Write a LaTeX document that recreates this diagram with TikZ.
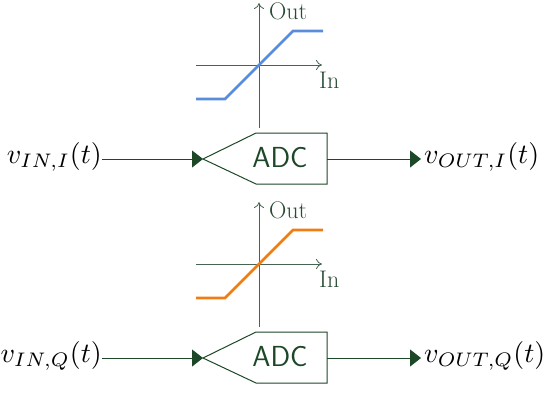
\documentclass[tikz,border=0pt]{standalone}
\usepackage{graphicx}
\usetikzlibrary{arrows.meta}
\definecolor{dgreen}{RGB}{28,72,40}
\definecolor{axgreen}{RGB}{70,100,80}
\definecolor{labgreen}{RGB}{40,75,50}
\definecolor{cblue}{RGB}{90,140,220}
\definecolor{corange}{RGB}{240,125,20}
\newcommand{\bigsig}[1]{\scalebox{2.8}{$#1$}}
\tikzset{
  wire/.style={draw=dgreen,line width=1pt,-{Triangle[length=11pt,width=17pt]}},
  adcshape/.style={draw=dgreen,line width=1pt,fill=white},
  adclabel/.style={text=dgreen,font=\sffamily\fontsize{29}{32}\selectfont,inner sep=0pt},
  sig/.style={inner sep=0pt},
  axis/.style={draw=axgreen,line width=0.8pt},
  axlabel/.style={text=labgreen,font=\fontsize{24}{28}\selectfont,inner sep=0pt},
  curve/.style={line width=2.6pt}
}
\begin{document}
\begin{tikzpicture}[x=1pt,y=-1pt]
\useasboundingbox (0,0) rectangle (546,392);
\foreach \dy/\ch/\col [count=\i] in {0/I/cblue,199/Q/corange}{
  \begin{scope}[yshift=-\dy pt]
    % transfer characteristic
    \coordinate (ay0\i) at (259,128);
    \coordinate (ay1\i) at (259,3);
    \coordinate (ax0\i) at (196,65);
    \coordinate (ax1\i) at (322,65);
    \draw[axis,-{To[length=6pt,width=10pt]}] (ay0\i) -- (ay1\i);
    \draw[axis,-{To[length=6pt,width=10pt]}] (ax0\i) -- (ax1\i);
    \node[axlabel,anchor=west] (out\i) at (269,11) {Out};
    \node[axlabel,anchor=west] (in\i) at (319,80) {In};
    \draw[curve,draw=\col] (196,99) -- (225,99) -- (293,31) -- (323,31);
    % ADC block
    \coordinate (tip\i) at (203,159);
    \coordinate (rt\i) at (327,159);
    \draw[adcshape] (tip\i) -- (256,133) -- (327,133) -- (327,184) -- (256,184) -- cycle;
    \node[adclabel] (adc\i) at (280,158) {ADC};
    % signals
    \node[sig,anchor=east] (vin\i) at (102,157) {\bigsig{v_{IN,\ch}(t)}};
    \node[sig,anchor=west] (vout\i) at (424,157) {\bigsig{v_{OUT,\ch}(t)}};
    \draw[wire] (vin\i.east |- tip\i) -- (tip\i);
    \draw[wire] (rt\i) -- ([xshift=-3pt]vout\i.west |- rt\i);
  \end{scope}
}
\end{tikzpicture}
\end{document}
